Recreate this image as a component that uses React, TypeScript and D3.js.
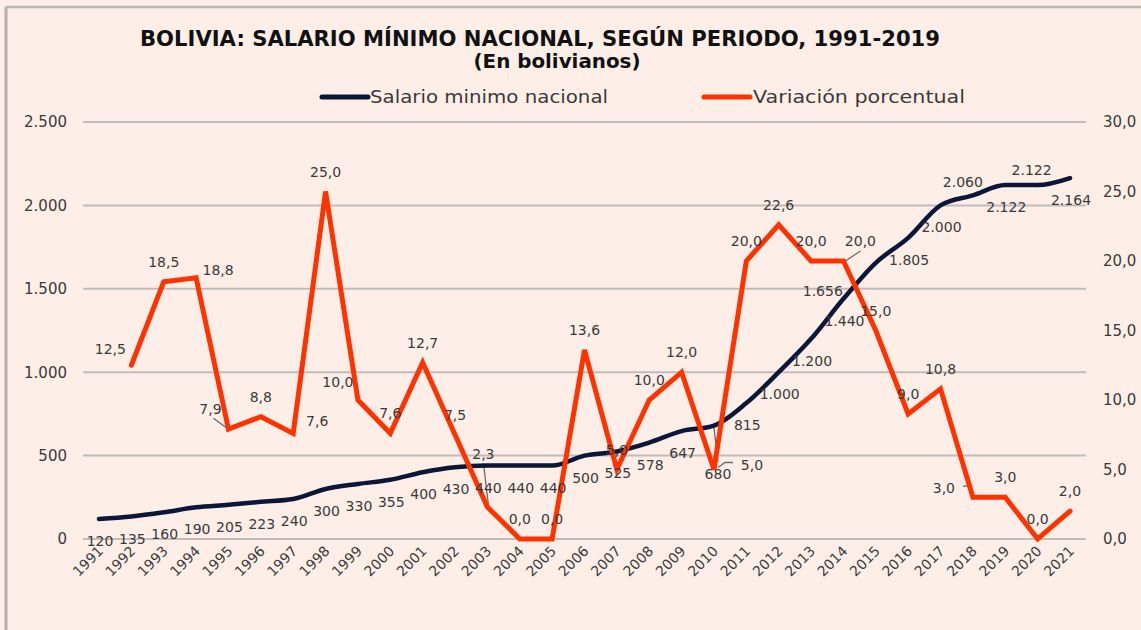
import React from "react";
import * as d3 from "d3";

const years = [1991,1992,1993,1994,1995,1996,1997,1998,1999,2000,2001,2002,2003,2004,2005,2006,2007,2008,2009,2010,2011,2012,2013,2014,2015,2016,2017,2018,2019,2020,2021];
const salario = [120,135,160,190,205,223,240,300,330,355,400,430,440,440,440,500,525,578,647,680,815,1000,1200,1440,1656,1805,2000,2060,2122,2122,2164];
const variacion: (number|null)[] = [null,12.5,18.5,18.8,7.9,8.8,7.6,25.0,10.0,7.6,12.7,7.5,2.3,0.0,0.0,13.6,5.0,10.0,12.0,5.0,20.0,22.6,20.0,20.0,15.0,9.0,10.8,3.0,3.0,0.0,2.0];
const leftTicks = [0,500,1000,1500,2000,2500];
const rightTicks = [0,5,10,15,20,25,30];

const TITLE = "BOLIVIA: SALARIO MÍNIMO NACIONAL, SEGÚN PERIODO, 1991-2019";
const SUBTITLE = "(En bolivianos)";
const LEG1 = "Salario minimo nacional";
const LEG2 = "Variación porcentual";

// label placement (style): offsets [dx, dy] of label centre from the point
const salLabelOffset: Record<number,[number,number]> = {
  2010: [4, 48],
  2015: [-53, 28],
  2018: [-10, -13],
  2020: [-6, -15],
};
const varLabelOffset: Record<number,[number,number]> = {
  1992: [-21, -16],
  1994: [22, -8],
  1995: [-18, -20],
  1997: [24, -12],
  1999: [-20, -18],
  2003: [-4, -53],
  2010: [38, -5],
  2014: [17, -20],
  2018: [-29, -9],
};

const fmtSal = (v: number) => d3.format(",")(v).replace(/,/g, ".");
const fmtVar = (v: number) => v.toFixed(1).replace(".", ",");

export default function App() {
  const W = 1141, H = 630;
  const x = d3.scalePoint<number>().domain(years).range([99, 1070]);
  const yL = d3.scaleLinear().domain([0, 2500]).range([539, 122]);
  const yR = d3.scaleLinear().domain([0, 30]).range([539, 122]);
  const font = "'DejaVu Sans', Verdana, sans-serif";
  const txt = "#3a3a3a";

  const salLine = d3.line<number>()
    .x((_, i) => x(years[i])!)
    .y((d) => yL(d))
    .curve(d3.curveMonotoneX)(salario) || "";
  const varLine = d3.line<number|null>()
    .defined((d) => d !== null)
    .x((_, i) => x(years[i])!)
    .y((d) => yR(d as number))(variacion) || "";

  return (
    <svg width={W} height={H} style={{ position: "absolute", left: 0, top: 0, background: "#FDEFE7" }} fontFamily={font}>
      <rect x={0} y={0} width={W} height={H} fill="#FDEFE7" />
      {/* frame */}
      <line x1={6} y1={7} x2={W} y2={7} stroke="#BDB7B2" strokeWidth={2.5} />
      <line x1={6} y1={7} x2={6} y2={H} stroke="#B5B0AC" strokeWidth={3} />

      {/* title */}
      <text x={540} y={46} textAnchor="middle" fontSize={21} fontWeight="bold" fill="#111"
        textLength={800} lengthAdjust="spacingAndGlyphs" fontFamily="'DejaVu Sans Condensed', 'DejaVu Sans', sans-serif">{TITLE}</text>
      <text x={557} y={68} textAnchor="middle" fontSize={19} fontWeight="bold" fill="#111"
        textLength={167} lengthAdjust="spacingAndGlyphs" fontFamily="'DejaVu Sans Condensed', 'DejaVu Sans', sans-serif">{SUBTITLE}</text>

      {/* legend */}
      <line x1={322} y1={97} x2={368} y2={97} stroke="#0C1638" strokeWidth={5} strokeLinecap="round" />
      <text x={370} y={103} fontSize={17} fill={txt} textLength={238} lengthAdjust="spacingAndGlyphs">{LEG1}</text>
      <line x1={704} y1={97} x2={750} y2={97} stroke="#FF3300" strokeWidth={5} strokeLinecap="round" />
      <text x={753} y={103} fontSize={17} fill={txt} textLength={212} lengthAdjust="spacingAndGlyphs">{LEG2}</text>

      {/* gridlines */}
      {leftTicks.map((t) => (
        <line key={"g" + t} x1={83} x2={1086} y1={yL(t)} y2={yL(t)} stroke="#BFBCBA" strokeWidth={2} />
      ))}
      {/* left axis labels */}
      {leftTicks.map((t) => (
        <text key={"l" + t} x={67} y={yL(t)} dy="0.36em" textAnchor="end" fontSize={15} fill={txt}>{fmtSal(t)}</text>
      ))}
      {/* right axis labels */}
      {rightTicks.map((t) => (
        <text key={"r" + t} x={1103} y={yR(t)} dy="0.36em" textAnchor="start" fontSize={15} fill={txt}>{fmtVar(t)}</text>
      ))}
      {/* x labels */}
      {years.map((yv) => (
        <text key={"x" + yv} transform={`translate(${x(yv)! + 5},${552}) rotate(-45)`} textAnchor="end" fontSize={14} fill={txt}>{yv}</text>
      ))}

      {/* leader lines */}
      <g stroke="#6b6b6b" strokeWidth={1.3} fill="none">
        <path d={`M${x(1995)! - 15},${yR(7.9) - 11} L${x(1995)!},${yR(7.9)}`} />
        <path d={`M${x(2003)! - 4},${yR(2.3) - 44} L${x(2003)! + 1},${yR(2.3) - 2}`} />
        <path d={`M${x(2010)!},${yL(680) + 2} L${x(2010)! + 4},${yL(680) + 36}`} />
        <path d={`M${x(2010)! + 4},${yR(5) - 2} L${x(2010)! + 11},${yR(5) - 7} L${x(2010)! + 19},${yR(5) - 7}`} />
        <path d={`M${x(2014)! + 2},${yR(20)} L${x(2014)! + 17},${yR(20) - 10}`} />
        <path d={`M${x(2015)! - 25},${yL(1656) + 25} L${x(2015)! - 1},${yL(1656) + 2}`} />
        <path d={`M${x(2018)! - 10},${yR(3) - 11} L${x(2018)! - 2},${yR(3) - 12} L${x(2018)!},${yR(3) - 1}`} />
      </g>

      {/* series */}
      <path d={salLine} fill="none" stroke="#0C1638" strokeWidth={4.5} strokeLinejoin="round" strokeLinecap="round" />
      <path d={varLine} fill="none" stroke="#FF3300" strokeWidth={5} strokeLinejoin="miter" strokeLinecap="round" />

      {/* salary labels */}
      {salario.map((v, i) => {
        const yr = years[i];
        const [dx, dy] = salLabelOffset[yr] || [1, 22];
        return (
          <text key={"sl" + yr} x={x(yr)! + dx} y={yL(v) + dy} dy="0.36em" textAnchor="middle" fontSize={14} fill={txt}>{fmtSal(v)}</text>
        );
      })}
      {/* variation labels */}
      {variacion.map((v, i) => {
        if (v === null) return null;
        const yr = years[i];
        const [dx, dy] = varLabelOffset[yr] || [0, -20];
        return (
          <text key={"vl" + yr} x={x(yr)! + dx} y={yR(v) + dy} dy="0.36em" textAnchor="middle" fontSize={14} fill={txt}>{fmtVar(v)}</text>
        );
      })}
    </svg>
  );
}
